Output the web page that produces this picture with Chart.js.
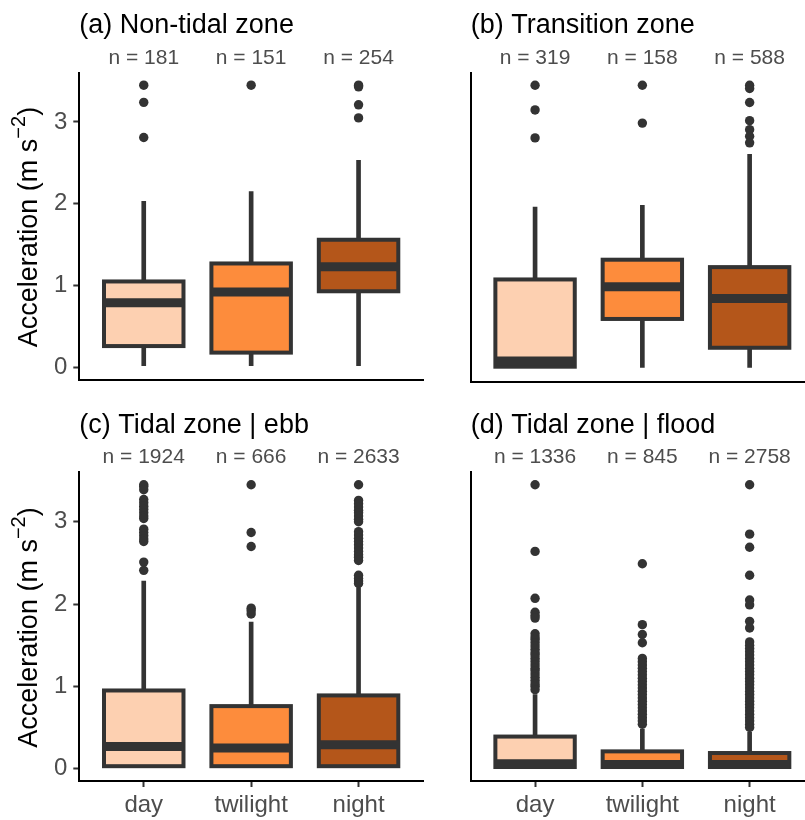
<!DOCTYPE html>
<html>
<head>
<meta charset="utf-8">
<script src="https://cdn.jsdelivr.net/npm/chart.js@4.4.1/dist/chart.umd.min.js"></script>
<style>
  html, body { margin: 0; padding: 0; background: #fff; overflow: hidden; }
  #wrap { position: relative; width: 805px; height: 820px; overflow: hidden; }
  canvas { position: absolute; }
</style>
</head>
<body>
<div id="wrap">
  <canvas id="panelA" width="440" height="400" style="left:0;top:0"></canvas>
  <canvas id="panelB" width="380" height="400" style="left:440px;top:0"></canvas>
  <canvas id="panelC" width="440" height="420" style="left:0;top:400px"></canvas>
  <canvas id="panelD" width="380" height="420" style="left:440px;top:400px"></canvas>
</div>
<script>
// light period categories and y ticks
const categories = ["day", "twilight", "night"];
const yTicks = [0, 1, 2, 3];
const fills = ["#FDD0B1", "#FD8C3C", "#B4561A"];

const panelTitles = [
  "(a) Non-tidal zone",
  "(b) Transition zone",
  "(c) Tidal zone | ebb",
  "(d) Tidal zone | flood"
];

// sample sizes per panel (day, twilight, night)
const sampleSizes = [
  [181, 151, 254],
  [319, 158, 588],
  [1924, 666, 2633],
  [1336, 845, 2758]
];

// box statistics per panel
const lowerWhisker = [
  [0.02, 0.02, 0.02],
  [0.03, 0.02, 0.02],
  [0.02, 0.02, 0.02],
  [0.02, 0.02, 0.02]
];
const lowerQuartile = [
  [0.26, 0.18, 0.93],
  [0.03, 0.61, 0.26],
  [0.03, 0.03, 0.03],
  [0.02, 0.02, 0.02]
];
const medians = [
  [0.79, 0.92, 1.23],
  [0.10, 1.00, 0.86],
  [0.27, 0.25, 0.29],
  [0.06, 0.05, 0.05]
];
const upperQuartile = [
  [1.05, 1.27, 1.56],
  [1.09, 1.33, 1.24],
  [0.95, 0.76, 0.89],
  [0.39, 0.21, 0.19]
];
const upperWhisker = [
  [2.03, 2.15, 2.53],
  [1.97, 1.99, 2.61],
  [2.28, 1.78, 2.20],
  [0.90, 0.48, 0.44]
];

// outliers per panel, one list per category
const nonTidalOutliers = [
  [3.45, 3.24, 2.81],
  [3.45],
  [3.45, 3.43, 3.21, 3.05]
];
const transitionOutliers = [
  [3.45, 3.15, 2.81],
  [3.45, 2.99],
  [3.45, 3.41, 3.24, 3.02, 2.91, 2.83, 2.75]
];
const ebbOutliers = [
  [3.45, 3.43, 3.39, 3.27, 3.23, 3.19, 3.15, 3.11, 3.07, 3.04, 2.91, 2.87, 2.83, 2.79, 2.76, 2.51, 2.41],
  [3.45, 2.87, 2.70, 1.95, 1.92, 1.88],
  [3.45, 3.26, 3.22, 3.18, 3.14, 3.11, 3.07, 3.03, 3.00, 2.88, 2.84, 2.80, 2.76, 2.72, 2.68, 2.64, 2.60, 2.57, 2.53, 2.35, 2.31, 2.28, 2.25]
];
const floodOutliers = [
  [3.45, 2.64, 2.07, 1.90, 1.86, 1.83, 1.64, 1.60, 1.57, 1.53, 1.49, 1.45, 1.41, 1.38, 1.34, 1.30, 1.26, 1.22, 1.19, 1.15, 1.11, 1.07, 1.03, 1.00, 0.96],
  [2.49, 1.75, 1.63, 1.53, 1.34, 1.30, 1.26, 1.22, 1.18, 1.14, 1.10, 1.06, 1.02, 0.98, 0.94, 0.90, 0.86, 0.82, 0.78, 0.74, 0.70, 0.66, 0.62, 0.58, 0.54],
  [3.45, 2.85, 2.69, 2.35, 2.05, 1.99, 1.79, 1.71, 1.54, 1.50, 1.46, 1.42, 1.38, 1.34, 1.30, 1.26, 1.22, 1.18, 1.14, 1.10, 1.06, 1.02, 0.98, 0.94, 0.90, 0.86, 0.82, 0.78, 0.74, 0.70, 0.66, 0.62, 0.58, 0.54, 0.50]
];
const panelOutliers = [nonTidalOutliers, transitionOutliers, ebbOutliers, floodOutliers];

const FONT = "'Liberation Sans', Arial, Helvetica, sans-serif";
const INK = "#333333";
const LABEL_GREY = "#4D4D4D";

// outline + fat median line drawn over each box (ggplot style, stroke centred on the edge)
const boxOutline = {
  id: "boxOutline",
  afterDatasetsDraw(chart, args, opts) {
    const meta = chart.getDatasetMeta(0);
    const yScale = chart.scales.y;
    const ctx = chart.ctx;
    ctx.save();
    ctx.strokeStyle = INK;
    ctx.lineJoin = "miter";
    meta.data.forEach((bar, i) => {
      const { x, y, base, width } = bar.getProps(["x", "y", "base", "width"], true);
      const left = x - width / 2;
      ctx.lineWidth = 4;
      ctx.strokeRect(left, Math.min(y, base), width, Math.abs(base - y));
      const my = yScale.getPixelForValue(opts.medians[i]);
      ctx.lineWidth = 9;
      ctx.lineCap = "butt";
      ctx.beginPath();
      ctx.moveTo(left, my);
      ctx.lineTo(left + width, my);
      ctx.stroke();
    });
    ctx.restore();
  }
};

// rotated y title with a superscript exponent
const yTitle = {
  id: "yTitle",
  afterDraw(chart, args, opts) {
    if (!opts.display) return;
    const ctx = chart.ctx;
    const area = chart.chartArea;
    const main = "Acceleration (m s";
    const sup = "\u22122";
    const close = ")";
    ctx.save();
    ctx.fillStyle = "#000";
    ctx.font = "27px " + FONT;
    const wMain = ctx.measureText(main).width;
    const wClose = ctx.measureText(close).width;
    ctx.font = "20px " + FONT;
    const wSup = ctx.measureText(sup).width;
    const total = wMain + wSup + wClose;
    ctx.translate(opts.x, (area.top + area.bottom) / 2 + 1);
    ctx.rotate(-Math.PI / 2);
    ctx.textBaseline = "alphabetic";
    ctx.textAlign = "left";
    let pos = -total / 2;
    ctx.font = "27px " + FONT;
    ctx.fillText(main, pos, 0);
    pos += wMain;
    ctx.font = "20px " + FONT;
    ctx.fillText(sup, pos, -12);
    pos += wSup;
    ctx.font = "27px " + FONT;
    ctx.fillText(close, pos, 0);
    ctx.restore();
  }
};

function categoryTicks(scale) {
  scale.ticks = categories.map((c, i) => ({ value: i + 1 }));
}

function buildPanel(canvasId, p, opt) {
  const boxData = categories.map((c, i) => ({ x: i + 1, y: [lowerQuartile[p][i], upperQuartile[p][i]] }));
  const whiskerData = categories.map((c, i) => ({ x: i + 1, y: [lowerWhisker[p][i], upperWhisker[p][i]] }));
  const pointData = [];
  panelOutliers[p].forEach((list, i) => {
    list.forEach(v => pointData.push({ x: i + 1, y: v }));
  });

  return new Chart(document.getElementById(canvasId), {
    type: "bar",
    data: {
      datasets: [
        {
          label: "box",
          data: boxData,
          backgroundColor: fills,
          borderWidth: 0,
          grouped: false,
          barPercentage: 0.74,
          categoryPercentage: 1
        },
        {
          label: "whisker",
          data: whiskerData,
          backgroundColor: INK,
          borderWidth: 0,
          grouped: false,
          barThickness: 4
        },
        {
          type: "scatter",
          label: "outliers",
          data: pointData,
          pointRadius: 4.7,
          pointBackgroundColor: INK,
          pointBorderWidth: 0
        }
      ]
    },
    options: {
      responsive: false,
      animation: false,
      events: [],
      devicePixelRatio: 1,
      layout: { padding: { left: 0, right: opt.padRight, top: 0, bottom: 0 } },
      plugins: {
        legend: { display: false },
        tooltip: { enabled: false },
        title: {
          display: true,
          text: panelTitles[p],
          align: "start",
          fullSize: false,
          color: "#000",
          font: { family: FONT, size: 27, weight: "normal", lineHeight: 1.2 },
          padding: { top: 9, bottom: 0 }
        },
        boxOutline: { medians: medians[p] },
        yTitle: { display: opt.showY, x: 37 }
      },
      scales: {
        x: {
          type: "linear",
          min: 0.4,
          max: 3.6,
          offset: false,
          afterBuildTicks: categoryTicks,
          afterFit: s => { s.height = opt.bottomHeight; },
          ticks: {
            display: opt.showX,
            callback: v => categories[v - 1],
            color: LABEL_GREY,
            font: { family: FONT, size: 24 },
            padding: 4,
            maxRotation: 0,
            autoSkip: false
          },
          grid: {
            display: opt.showX,
            offset: false,
            drawOnChartArea: false,
            drawTicks: true,
            tickLength: 6,
            tickWidth: 2,
            tickColor: INK
          },
          border: { display: true, color: "#000", width: 2 }
        },
        xTop: {
          type: "linear",
          position: "top",
          min: 0.4,
          max: 3.6,
          offset: false,
          afterBuildTicks: categoryTicks,
          afterFit: s => { s.height = opt.topHeight; },
          ticks: {
            callback: v => "n = " + sampleSizes[p][v - 1],
            color: LABEL_GREY,
            font: { family: FONT, size: 21 },
            padding: -6,
            maxRotation: 0,
            autoSkip: false
          },
          grid: { display: false },
          border: { display: false }
        },
        y: {
          min: -0.15,
          max: 3.605,
          afterBuildTicks: s => { s.ticks = yTicks.map(v => ({ value: v })); },
          afterFit: s => { s.width = opt.leftWidth; },
          ticks: {
            display: opt.showY,
            color: LABEL_GREY,
            font: { family: FONT, size: 24 },
            padding: 6
          },
          grid: {
            display: opt.showY,
            drawOnChartArea: false,
            drawTicks: true,
            tickLength: 6,
            tickWidth: 2,
            tickColor: INK
          },
          border: { display: true, color: "#000", width: 2 }
        }
      }
    },
    plugins: [boxOutline, yTitle]
  });
}

buildPanel("panelA", 0, { showX: false, showY: true, leftWidth: 79.3, padRight: 17, topHeight: 31.1, bottomHeight: 18.5 });
buildPanel("panelB", 1, { showX: false, showY: false, leftWidth: 30.7, padRight: 6, topHeight: 31.1, bottomHeight: 18.5 });
buildPanel("panelC", 2, { showX: true, showY: true, leftWidth: 79.3, padRight: 17, topHeight: 30.6, bottomHeight: 39 });
buildPanel("panelD", 3, { showX: true, showY: false, leftWidth: 30.7, padRight: 6, topHeight: 30.6, bottomHeight: 39 });
</script>
</body>
</html>
